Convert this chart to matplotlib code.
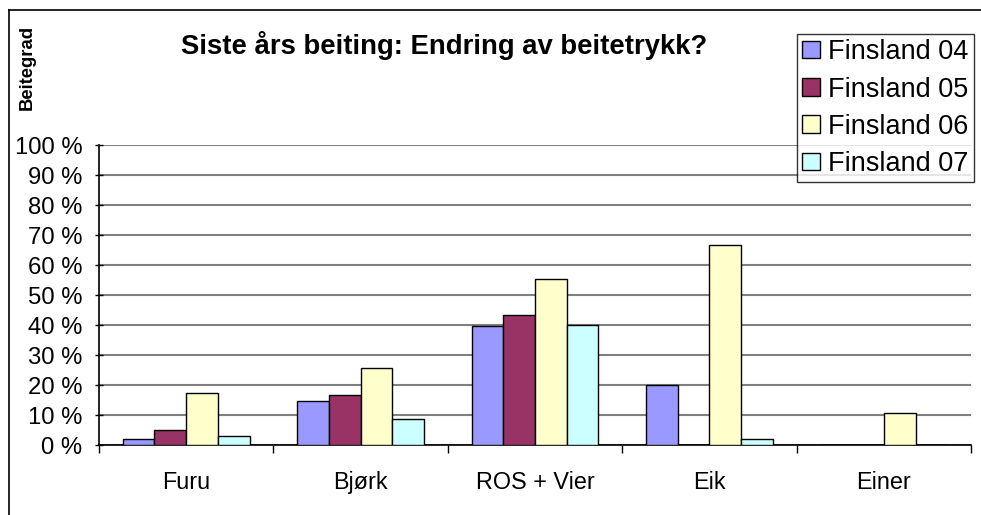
import matplotlib.pyplot as plt
from matplotlib.patches import Patch
from matplotlib.lines import Line2D
import numpy as np

plt.rcParams['font.family'] = ['Liberation Sans', 'DejaVu Sans']

# data
categories = ["Furu", "Bjørk", "ROS + Vier", "Eik", "Einer"]
series_names = ["Finsland 04", "Finsland 05", "Finsland 06", "Finsland 07"]
finsland_04 = [2, 14.7, 39.8, 20, 0]
finsland_05 = [4.9, 16.6, 43.4, 0, 0]
finsland_06 = [17.2, 25.8, 55.3, 66.7, 10.6]
finsland_07 = [3, 8.7, 40, 1.9, 0]
series_values = [finsland_04, finsland_05, finsland_06, finsland_07]
yticks = list(range(0, 101, 10))

colors = ["#9999FF", "#993366", "#FFFFCC", "#CCFFFF"]

fig = plt.figure(figsize=(9.81, 5.15), dpi=100)
ax = fig.add_axes([99 / 981, 1 - 445 / 515, 872 / 981, 300 / 515])

n = len(series_names)
x = np.arange(len(categories))
width = 1 / 5.5  # excel gap width 150 %
for i, (vals, c) in enumerate(zip(series_values, colors)):
    ax.bar(x + (i - (n - 1) / 2) * width, vals, width, color=c,
           edgecolor="black", linewidth=1.0, zorder=3)

ax.set_xlim(-0.5, len(categories) - 0.5)
ax.set_ylim(0, 100)
ax.set_yticks(yticks)
ax.set_yticklabels([f"{v} %" for v in yticks], fontsize=17.2)
ax.set_xticks(x)
ax.set_xticklabels(categories, fontsize=16.8)
ax.set_xticks(np.arange(len(categories) + 1) - 0.5, minor=True)
ax.tick_params(axis="x", which="major", length=0, pad=19)
ax.tick_params(axis="x", which="minor", length=5.5, width=1, direction="out")
ax.tick_params(axis="y", which="major", length=6, width=1, direction="inout", pad=9)

ax.grid(axis="y", color="#808080", linewidth=1.5, zorder=0)
for s in ["top", "right"]:
    ax.spines[s].set_visible(False)
ax.spines["left"].set_linewidth(1.2)
ax.spines["bottom"].set_linewidth(1.2)

fig.text(444 / 981, 1 - 45 / 515, "Siste års beiting: Endring av beitetrykk?",
         fontsize=19.8, fontweight="bold", ha="center", va="center")
fig.text(27 / 981, 1 - 67 / 515, "Beitegrad", fontsize=13.3, fontweight="bold",
         rotation=90, ha="center", va="center")

# outer chart frame (cropped at right and bottom)
fig.add_artist(Line2D([9 / 981, 9 / 981], [0, 1 - 10 / 515], color="black", lw=1.2))
fig.add_artist(Line2D([9 / 981, 1], [1 - 10 / 515, 1 - 10 / 515], color="black", lw=1.2))

handles = [Patch(facecolor=c, edgecolor="black", linewidth=1.0) for c in colors]
leg = fig.legend(handles, series_names, loc="upper left",
                 bbox_to_anchor=(797 / 981, 1 - 34 / 515), fontsize=19.5,
                 frameon=True, fancybox=False, edgecolor="black",
                 handlelength=0.65, handleheight=0.6, handletextpad=0.3,
                 labelspacing=0.41, borderpad=0.2, borderaxespad=0)
leg.get_frame().set_linewidth(1.0)

fig.savefig("out.png", dpi=100)
